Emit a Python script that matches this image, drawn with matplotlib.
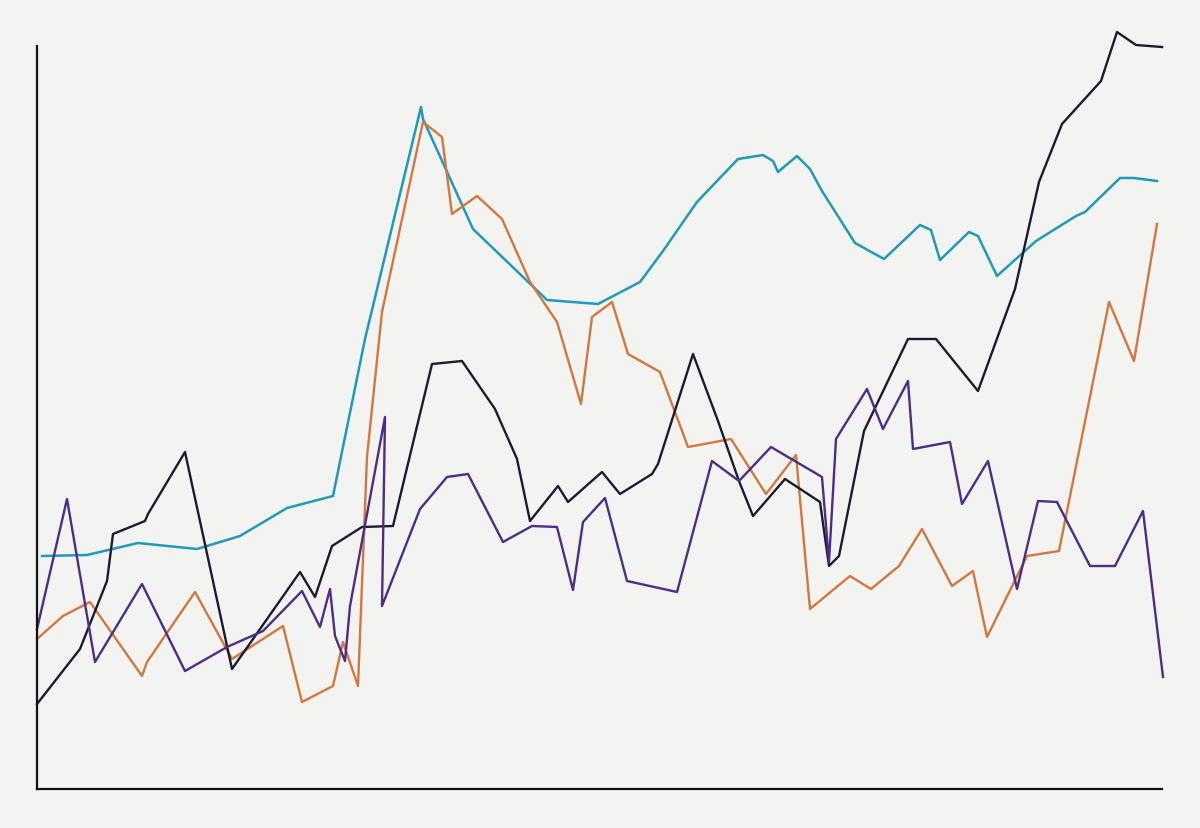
import matplotlib
matplotlib.use("Agg")
import matplotlib.pyplot as plt

# values (x ~ time, y ~ level)
teal_x = [0.5, 5.0, 10.1, 16.0, 20.3, 25.0, 29.6, 32.8, 38.4, 38.6, 43.6, 51.0, 56.1, 60.3, 62.6,
          66.0, 70.1, 72.6, 73.6, 74.1, 76.0, 77.3, 78.5, 81.8, 84.7, 88.3, 89.4, 90.3, 93.2,
          94.1, 96.0, 99.9, 103.9, 104.8, 108.3, 109.7, 112.0]
teal_y = [23.3, 23.4, 24.6, 24.0, 25.3, 28.1, 29.3, 45.0, 68.2, 67.0, 56.0, 48.9, 48.5, 50.7, 53.8,
          58.7, 63.0, 63.4, 62.8, 61.7, 63.3, 62.0, 59.8, 54.6, 53.0, 56.4, 55.9, 52.9, 55.7,
          55.3, 51.3, 54.8, 57.3, 57.7, 61.1, 61.1, 60.8]

orange_x = [0.0, 2.6, 5.3, 10.5, 11.0, 15.8, 19.5, 24.6, 26.5, 29.6, 30.6, 32.1, 33.0, 34.5, 38.6,
            40.5, 41.5, 44.0, 46.5, 49.3, 52.0, 54.4, 55.5, 57.5, 59.1, 62.3, 65.1, 69.4, 72.9,
            75.9, 77.3, 81.3, 83.4, 86.2, 88.5, 91.5, 93.6, 95.0, 99.0, 102.2, 107.2, 109.7, 112.0]
orange_y = [15.0, 17.3, 18.7, 11.3, 12.7, 19.7, 13.0, 16.3, 8.7, 10.3, 14.7, 10.3, 33.2, 47.7, 66.7,
            65.2, 57.5, 59.3, 57.0, 50.7, 46.7, 38.5, 47.2, 48.7, 43.5, 41.7, 34.2, 35.0, 29.5,
            33.4, 18.0, 21.3, 20.0, 22.3, 26.0, 20.3, 21.8, 15.2, 23.3, 23.8, 48.7, 42.8, 56.5]

black_x = [0.0, 4.3, 7.0, 7.6, 10.8, 11.1, 14.8, 19.5, 26.3, 27.8, 29.5, 32.5, 35.6, 39.5, 42.5,
           45.8, 48.0, 49.3, 52.1, 53.1, 56.5, 58.3, 61.5, 62.1, 65.6, 68.1, 70.2, 71.6, 74.8,
           78.3, 79.2, 80.2, 82.7, 87.1, 89.9, 94.1, 97.8, 100.2, 102.5, 106.4, 108.0, 109.9, 112.5]
black_y = [8.5, 14.0, 20.8, 25.5, 26.8, 27.5, 33.7, 12.0, 21.7, 19.2, 24.3, 26.2, 26.3, 42.5, 42.8,
           38.0, 33.0, 26.8, 30.3, 28.7, 31.7, 29.5, 31.5, 32.5, 43.5, 36.8, 30.8, 27.3, 31.0,
           28.7, 22.3, 23.3, 35.8, 45.0, 45.0, 39.8, 50.0, 60.7, 66.5, 70.8, 75.7, 74.4, 74.2]

purple_x = [0.0, 3.0, 5.8, 10.5, 14.8, 19.0, 22.6, 26.5, 28.3, 29.3, 29.8, 30.8, 31.3, 34.8, 34.5,
            38.3, 41.0, 43.1, 46.6, 49.5, 52.0, 53.6, 54.6, 56.8, 59.0, 64.0, 67.5, 70.2, 73.4,
            78.5, 79.2, 79.9, 83.0, 84.6, 87.1, 87.6, 91.3, 92.5, 95.1, 98.0, 100.1, 102.0,
            105.3, 107.8, 110.6, 112.6]
purple_y = [16.0, 29.0, 12.7, 20.5, 11.8, 14.2, 15.8, 19.8, 16.2, 20.0, 15.3, 12.8, 18.3, 37.2, 18.3,
            28.0, 31.2, 31.5, 24.7, 26.3, 26.2, 19.9, 26.7, 29.1, 20.8, 19.7, 32.8, 30.8, 34.2,
            31.2, 22.7, 35.0, 40.0, 36.0, 40.8, 34.0, 34.7, 28.5, 32.8, 20.0, 28.8, 28.7,
            22.3, 22.3, 27.8, 11.2]

bg = "#f3f3f1"
fig = plt.figure(figsize=(12, 8.29), dpi=100, facecolor=bg)
ax = fig.add_axes([37 / 1200, 39 / 829, 1125 / 1200, 760 / 829])
ax.set_facecolor(bg)

ax.plot(teal_x, teal_y, color="#1f9ab8", lw=1.8, clip_on=False)
ax.plot(orange_x, orange_y, color="#d2773e", lw=1.7, clip_on=False)
ax.plot(black_x, black_y, color="#1c1a33", lw=1.7, clip_on=False)
ax.plot(purple_x, purple_y, color="#4b2e85", lw=1.7, clip_on=False)

ax.set_xlim(0, 112.5)
ax.set_ylim(0, 76)
ax.spines["top"].set_visible(False)
ax.spines["right"].set_visible(False)
ax.spines["left"].set_bounds(0, 74.3)
ax.spines["left"].set_linewidth(1.6)
ax.spines["bottom"].set_linewidth(1.6)
ax.spines["left"].set_color("#111111")
ax.spines["bottom"].set_color("#111111")
ax.set_xticks([])
ax.set_yticks([])

fig.savefig("out.png", dpi=100, facecolor=bg)
